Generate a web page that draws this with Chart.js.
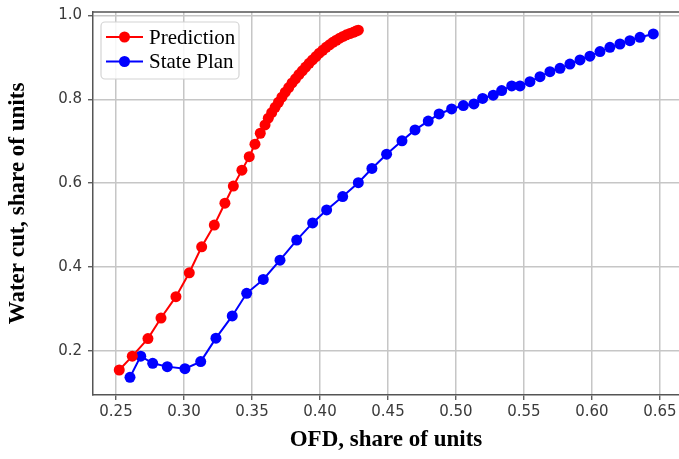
<!DOCTYPE html>
<html>
<head>
<meta charset="utf-8">
<script src="https://cdn.jsdelivr.net/npm/chart.js@4.4.1/dist/chart.umd.min.js"></script>
<style>
  html, body { margin: 0; padding: 0; background: #ffffff; }
  #wrap { width: 679px; height: 459px; position: relative; }
</style>
</head>
<body>
<div id="wrap"><canvas id="c" width="679" height="459"></canvas></div>
<script>
// ---- data ----
const predictionX = [0.2524,0.2620,0.2735,0.2831,0.2941,0.3039,0.3130,0.3223,0.3301,0.3363,0.3426,0.3480,0.3522,0.3561,0.3596,0.3620,0.3645,0.3670,0.3695,0.3720,0.3745,0.3770,0.3795,0.3820,0.3845,0.3870,0.3895,0.3920,0.3945,0.3970,0.3995,0.4020,0.4045,0.4070,0.4095,0.4120,0.4145,0.4170,0.4195,0.4220,0.4245,0.4265,0.4282];
const predictionY = [0.154,0.187,0.229,0.278,0.329,0.386,0.448,0.500,0.552,0.593,0.631,0.663,0.693,0.719,0.739,0.755,0.768,0.781,0.793,0.805,0.817,0.828,0.839,0.849,0.859,0.868,0.877,0.886,0.894,0.902,0.910,0.917,0.924,0.930,0.936,0.941,0.946,0.950,0.954,0.957,0.960,0.963,0.965];

const statePlanX = [0.2603,0.2682,0.2770,0.2877,0.3007,0.3123,0.3235,0.3355,0.3461,0.3583,0.3706,0.3829,0.3946,0.4049,0.4167,0.4282,0.4382,0.4490,0.4603,0.4699,0.4796,0.4876,0.4968,0.5054,0.5132,0.5196,0.5274,0.5336,0.5410,0.5471,0.5544,0.5618,0.5691,0.5765,0.5838,0.5912,0.5985,0.6059,0.6132,0.6206,0.6279,0.6353,0.6451];
const statePlanY = [0.1365,0.187,0.170,0.162,0.157,0.174,0.230,0.283,0.337,0.370,0.416,0.464,0.505,0.536,0.568,0.601,0.635,0.669,0.701,0.727,0.748,0.765,0.777,0.785,0.789,0.802,0.810,0.821,0.832,0.832,0.842,0.854,0.866,0.874,0.884,0.894,0.903,0.914,0.924,0.932,0.940,0.948,0.956];

const xTickValues = [0.25,0.30,0.35,0.40,0.45,0.50,0.55,0.60,0.65];
const yTickValues = [0.2,0.4,0.6,0.8,1.0];
const seriesNames = ["Prediction","State Plan"];
const xTitle = "OFD, share of units";
const yTitle = "Water cut, share of units";

// ---- build ----
const toPts = (xs, ys) => xs.map((x, i) => ({x: x, y: ys[i]}));
const colors = ["#ff0000", "#0000ff"];

const tickFont = { family: "'DejaVu Sans', sans-serif", size: 15 };
const titleFont = { family: "'Liberation Serif', 'Times New Roman', serif", size: 23, weight: "bold" };

const frame = {
  id: 'frame',
  afterDraw(chart) {
    const {ctx, chartArea: a} = chart;
    ctx.save();
    // top spine
    ctx.strokeStyle = '#555555';
    ctx.lineWidth = 1.5;
    ctx.beginPath();
    ctx.moveTo(a.left, a.top);
    ctx.lineTo(a.right + 1, a.top);
    ctx.stroke();
    // legend
    const bx = 101, by = 22, bw = 138, bh = 57, r = 4;
    ctx.fillStyle = 'rgba(255,255,255,0.85)';
    ctx.strokeStyle = '#d4d4d4';
    ctx.lineWidth = 1.2;
    ctx.beginPath();
    ctx.roundRect(bx, by, bw, bh, r);
    ctx.fill();
    ctx.stroke();
    chart.data.datasets.forEach((ds, i) => {
      const cy = 37 + i * 24.5;
      ctx.strokeStyle = ds.borderColor;
      ctx.lineWidth = 2;
      ctx.beginPath();
      ctx.moveTo(106, cy);
      ctx.lineTo(143, cy);
      ctx.stroke();
      ctx.fillStyle = ds.borderColor;
      ctx.beginPath();
      ctx.arc(124.5, cy, 5.5, 0, Math.PI * 2);
      ctx.fill();
      ctx.fillStyle = '#000000';
      ctx.font = "21px 'Liberation Serif', 'Times New Roman', serif";
      ctx.textBaseline = 'middle';
      ctx.textAlign = 'left';
      ctx.fillText(ds.label, 149, cy + 1);
    });
    ctx.restore();
  }
};

new Chart(document.getElementById('c'), {
  type: 'line',
  data: {
    datasets: [
      { label: seriesNames[0], data: toPts(predictionX, predictionY), borderColor: colors[0], backgroundColor: colors[0],
        pointBackgroundColor: colors[0], pointBorderWidth: 0, pointRadius: 5.5, borderWidth: 2, tension: 0, fill: false },
      { label: seriesNames[1], data: toPts(statePlanX, statePlanY), borderColor: colors[1], backgroundColor: colors[1],
        pointBackgroundColor: colors[1], pointBorderWidth: 0, pointRadius: 5.5, borderWidth: 2, tension: 0, fill: false }
    ]
  },
  options: {
    responsive: false,
    animation: false,
    devicePixelRatio: 1,
    layout: { autoPadding: false, padding: { top: 12, right: 0, left: 0, bottom: 0 } },
    plugins: { legend: { display: false }, tooltip: { enabled: false } },
    scales: {
      x: {
        type: 'linear',
        min: 0.2331, max: 0.6640,
        afterFit(s) { s.height = 64; s.paddingRight = 0; s.paddingLeft = 0; },
        afterBuildTicks(s) { s.ticks = xTickValues.map(v => ({ value: v })); },
        ticks: { font: tickFont, color: '#3a3a3a', padding: 3, maxRotation: 0,
                 callback: v => v.toFixed(2) },
        grid: { color: '#c6c6c6', lineWidth: 1.5, tickColor: '#444444', tickLength: 5, tickWidth: 1.2 },
        border: { color: '#555555', width: 1.5 },
        title: { display: true, text: xTitle, font: titleFont, color: '#000000', padding: { top: 0, bottom: 5 } }
      },
      y: {
        type: 'linear',
        min: 0.0943, max: 1.0084,
        afterFit(s) { s.width = 93; s.paddingTop = 0; s.paddingBottom = 0; },
        afterBuildTicks(s) { s.ticks = yTickValues.map(v => ({ value: v })); },
        ticks: { font: tickFont, color: '#3a3a3a', padding: 6, callback: v => v.toFixed(1) },
        grid: { color: '#c6c6c6', lineWidth: 1.5, tickColor: '#444444', tickLength: 5, tickWidth: 1.2 },
        border: { color: '#555555', width: 1.5 },
        title: { display: true, text: yTitle, font: titleFont, color: '#000000', padding: { top: 4, bottom: 0 } }
      }
    }
  },
  plugins: [frame]
});
</script>
</body>
</html>
